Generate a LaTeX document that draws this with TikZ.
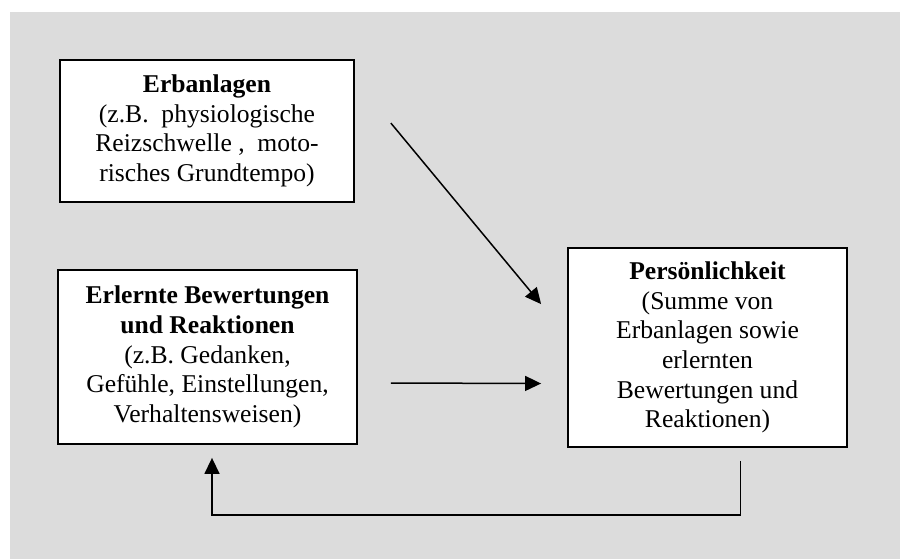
\documentclass[tikz,border=0pt]{standalone}
\usepackage{fontspec}
\setmainfont{Liberation Serif}
\usepackage{tikz}
\usetikzlibrary{arrows.meta}
\definecolor{bggray}{RGB}{220,220,220}
\tikzstyle{arrow} = [line width=0.75pt,-{Triangle[length=8pt,width=7.5pt]}]
\tikzstyle{box} = [
    rectangle, draw=black, line width=0.9pt, fill=white, align=center,
    inner sep=2pt, font=\fontsize{12.8}{14.8}\selectfont]

\begin{document}
\begin{tikzpicture}[x=0.5pt,y=-0.5pt]
\useasboundingbox (0,0) rectangle (900,559);
\fill[bggray] (10,12) rectangle (900,559);

\node (erb) [box, minimum width=147pt, minimum height=71pt] at (207,131) {
    \textbf{Erbanlagen}\\
    (z.B.\ \ physiologische\\
    Reizschwelle ,\ \ moto-\\
    risches Grundtempo)
};

\node (lern) [box, minimum width=149.5pt, minimum height=87pt] at (207.5,357) {
    \textbf{Erlernte Bewertungen}\\
    \textbf{und Reaktionen}\\
    (z.B. Gedanken,\\
    Gefühle, Einstellungen,\\
    Verhaltensweisen)
};

\node (pers) [box, minimum width=139.5pt, minimum height=99.5pt] at (707.5,347.5) {
    \textbf{Persönlichkeit}\\
    (Summe von\\
    Erbanlagen sowie\\
    erlernten\\
    Bewertungen und\\
    Reaktionen)
};

\draw [arrow] ([shift={(36,64)}]erb.north east) -- ([shift={(-26,57)}]pers.north west);
\draw [arrow] ([shift={(33,26)}]lern.east) -- ([shift={(-26,36)}]pers.west);
\draw [arrow] ([shift={(33,13)}]pers.south) -- ++(0,54) -| ([shift={(4.5,13)}]lern.south);
\end{tikzpicture}
\end{document}
